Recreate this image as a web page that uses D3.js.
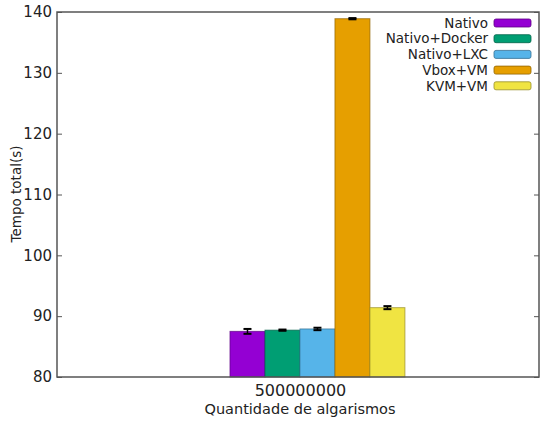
<!DOCTYPE html>
<html>
<head>
<meta charset="utf-8">
<script src="https://cdn.jsdelivr.net/npm/d3@7"></script>
<style>
  html, body { margin: 0; padding: 0; background: #fff; }
  svg { display: block; font-family: "DejaVu Sans", sans-serif; }
</style>
</head>
<body>
<svg id="chart" width="542" height="421"></svg>
<script>
// Tempo total de execução por ambiente (500000000 algarismos)
const categories = ["500000000"];
const seriesNames = ["Nativo", "Nativo+Docker", "Nativo+LXC", "Vbox+VM", "KVM+VM"];
const seriesValues = [87.5, 87.7, 87.9, 138.9, 91.4];
const seriesErrors = [0.4, 0.1, 0.2, 0.1, 0.25];
const seriesColors = ["#9400d3", "#009e73", "#56b4e9", "#e69f00", "#f0e442"];
const yTicks = [80, 90, 100, 110, 120, 130, 140];

const svg = d3.select("#chart");
const plotLeft = 57, plotRight = 539, plotTop = 12, plotBottom = 377;

// x is in cluster units; gnuplot-style gap of 2 between clusters
const x = d3.scaleLinear().domain([-0.992, 0.976]).range([plotLeft, plotRight]);
const y = d3.scaleLinear().domain([80, 140]).range([plotBottom, plotTop]);

const nSeries = seriesNames.length;
const gap = 2;
const barW = 1 / (nSeries + gap);

const bars = [];
categories.forEach((c, ci) => {
  seriesNames.forEach((s, i) => {
    const center = ci - 0.5 + (i + 2) * barW;
    bars.push({ c, s, i, center, v: seriesValues[i], e: seriesErrors[i], color: seriesColors[i] });
  });
});

// bars
svg.append("g").selectAll("rect").data(bars).join("rect")
  .attr("x", d => x(d.center - barW / 2))
  .attr("width", d => x(d.center + barW / 2) - x(d.center - barW / 2))
  .attr("y", d => y(d.v))
  .attr("height", d => y(80) - y(d.v))
  .attr("fill", d => d.color)
  .attr("stroke", d => d3.color(d.color).darker(1.3))
  .attr("stroke-opacity", 0.7)
  .attr("stroke-width", 1);

// error bars
const eg = svg.append("g").attr("stroke", "#000").attr("stroke-width", 1.5);
bars.forEach(d => {
  const cx = x(d.center);
  eg.append("line").attr("x1", cx).attr("x2", cx).attr("y1", y(d.v - d.e)).attr("y2", y(d.v + d.e));
  eg.append("line").attr("x1", cx - 4).attr("x2", cx + 4).attr("y1", y(d.v + d.e)).attr("y2", y(d.v + d.e)).attr("stroke-width", 2);
  eg.append("line").attr("x1", cx - 4).attr("x2", cx + 4).attr("y1", y(d.v - d.e)).attr("y2", y(d.v - d.e)).attr("stroke-width", 2);
});

// left axis (ticks inward, mirrored on the right)
const yAxisL = svg.append("g").attr("transform", `translate(${plotLeft},0)`)
  .call(d3.axisLeft(y).tickValues(yTicks).tickSize(-5).tickPadding(5).tickFormat(d3.format("d")));
yAxisL.select(".domain").remove();
yAxisL.selectAll(".tick line").attr("stroke", "#555");
yAxisL.selectAll(".tick text").attr("font-size", 15).attr("fill", "#222")
  .attr("font-family", "DejaVu Sans, sans-serif");

const yAxisR = svg.append("g").attr("transform", `translate(${plotRight},0)`)
  .call(d3.axisRight(y).tickValues(yTicks).tickSize(-5).tickFormat(""));
yAxisR.select(".domain").remove();
yAxisR.selectAll(".tick line").attr("stroke", "#555");

// x axis labels (no tick marks)
const xAxis = svg.append("g").attr("transform", `translate(0,${plotBottom})`)
  .call(d3.axisBottom(x).tickValues(categories.map((c, i) => i)).tickSize(0).tickPadding(8)
    .tickFormat(i => categories[i]));
xAxis.select(".domain").remove();
xAxis.selectAll(".tick text").attr("font-size", 16).attr("fill", "#222")
  .attr("font-family", "DejaVu Sans, sans-serif");

// frame
svg.append("rect")
  .attr("x", plotLeft).attr("y", plotTop)
  .attr("width", plotRight - plotLeft).attr("height", plotBottom - plotTop)
  .attr("fill", "none").attr("stroke", "#555").attr("stroke-width", 1.5);

// axis titles
svg.append("text")
  .attr("x", 300).attr("y", 414)
  .attr("text-anchor", "middle").attr("font-size", 14.5).attr("fill", "#222")
  .text("Quantidade de algarismos");
svg.append("text")
  .attr("transform", "translate(21,194) rotate(-90)")
  .attr("text-anchor", "middle").attr("font-size", 13.5).attr("fill", "#222")
  .text("Tempo total(s)");

// legend
const lg = svg.append("g");
seriesNames.forEach((s, i) => {
  const cy = 23 + i * 15.7;
  lg.append("text").attr("x", 488).attr("y", cy).attr("dy", "0.35em")
    .attr("text-anchor", "end").attr("font-size", 13.5).attr("fill", "#222").text(s);
  lg.append("rect").attr("x", 494).attr("y", cy - 4).attr("width", 37).attr("height", 8)
    .attr("rx", 2)
    .attr("fill", seriesColors[i])
    .attr("stroke", d3.color(seriesColors[i]).darker(1.3)).attr("stroke-opacity", 0.8).attr("stroke-width", 1);
});
</script>
</body>
</html>
